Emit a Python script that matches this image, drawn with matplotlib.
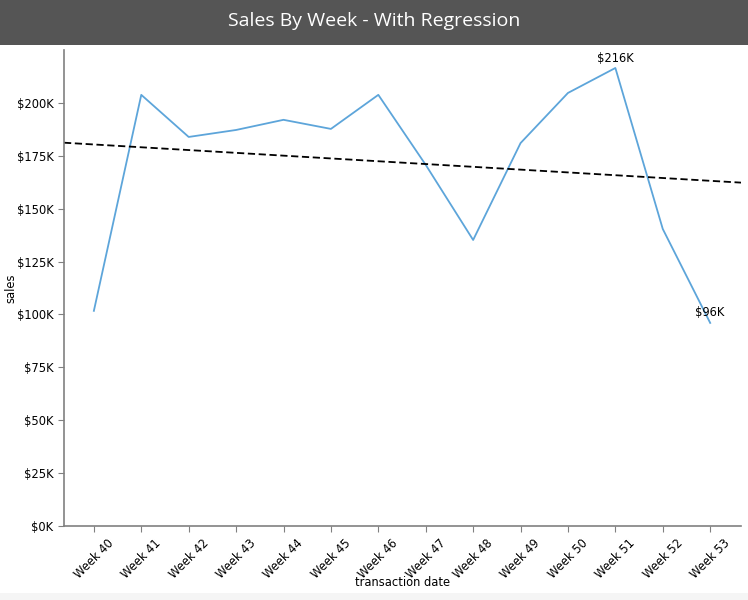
import matplotlib
matplotlib.use("Agg")
import matplotlib.pyplot as plt
import matplotlib.patches as mpatches
import numpy as np
from matplotlib.ticker import FuncFormatter

plt.rcParams["font.family"] = ["DejaVu Sans"]

weeks = ["Week 40", "Week 41", "Week 42", "Week 43", "Week 44", "Week 45", "Week 46",
         "Week 47", "Week 48", "Week 49", "Week 50", "Week 51", "Week 52", "Week 53"]
sales = [101.7, 203.8, 183.9, 187.2, 192.0, 187.7, 203.8,
         170.7, 135.2, 181.0, 204.7, 216.5, 140.4, 96.0]  # in $K
yticks = [0, 25, 50, 75, 100, 125, 150, 175, 200]

fig = plt.figure(figsize=(7.48, 6.0), dpi=100)
fig.patch.set_facecolor("white")
# title band
fig.patches.append(mpatches.Rectangle((0, 555/600), 1, 45/600, transform=fig.transFigure,
                                      facecolor="#555555", edgecolor="none", zorder=0))
fig.patches.append(mpatches.Rectangle((0, 0), 1, 7/600, transform=fig.transFigure,
                                      facecolor="#f5f5f5", edgecolor="none", zorder=0))
fig.text(0.5, 579/600, "Sales By Week - With Regression", color="white", fontsize=14,
         ha="center", va="center", family="Open Sans")

ax = fig.add_axes([64/748, 74/600, 677/748, 476/600])
x = np.arange(len(weeks))
y = np.array(sales) * 1000
ax.plot(x, y, color="#5da5da", lw=1.3)

xlim = (-0.63, 13.65)
coef = np.polyfit(x, y, 1)
xr = np.array(xlim)
ax.plot(xr, np.polyval(coef, xr), color="black", ls="--", lw=1.3, dashes=(4, 2))

imax = int(np.argmax(y)); imin = int(np.argmin(y))
for i in (imax, imin):
    ax.annotate(f"${y[i]/1000:.0f}K", (x[i], y[i]), ha="center", va="bottom", fontsize=8.3,
                xytext=(0, 2.5), textcoords="offset points")

ax.set_xlim(*xlim)
ax.set_ylim(0, 225000)
ax.set_xticks(x)
ax.set_xticklabels(weeks, rotation=45, fontsize=8.3)
ax.set_yticks([v * 1000 for v in yticks])
ax.yaxis.set_major_formatter(FuncFormatter(lambda v, p: f"${v/1000:.0f}K"))
ax.tick_params(axis="y", labelsize=8.3)
for s in ("top", "right"):
    ax.spines[s].set_visible(False)
for s in ("left", "bottom"):
    ax.spines[s].set_color("#808080")
    ax.spines[s].set_linewidth(1.2)
ax.tick_params(color="#808080", length=4)
ax.set_xlabel("transaction date", fontsize=8.3)
ax.set_ylabel("sales", fontsize=8.3)
ax.xaxis.set_label_coords(0.5, (526 - 582) / 476, transform=ax.transAxes)
ax.yaxis.set_label_coords((11 - 64) / 677, 0.5, transform=ax.transAxes)
ax.xaxis.label.set_va("center")
ax.yaxis.label.set_va("center")

fig.savefig("out.png", dpi=100)
